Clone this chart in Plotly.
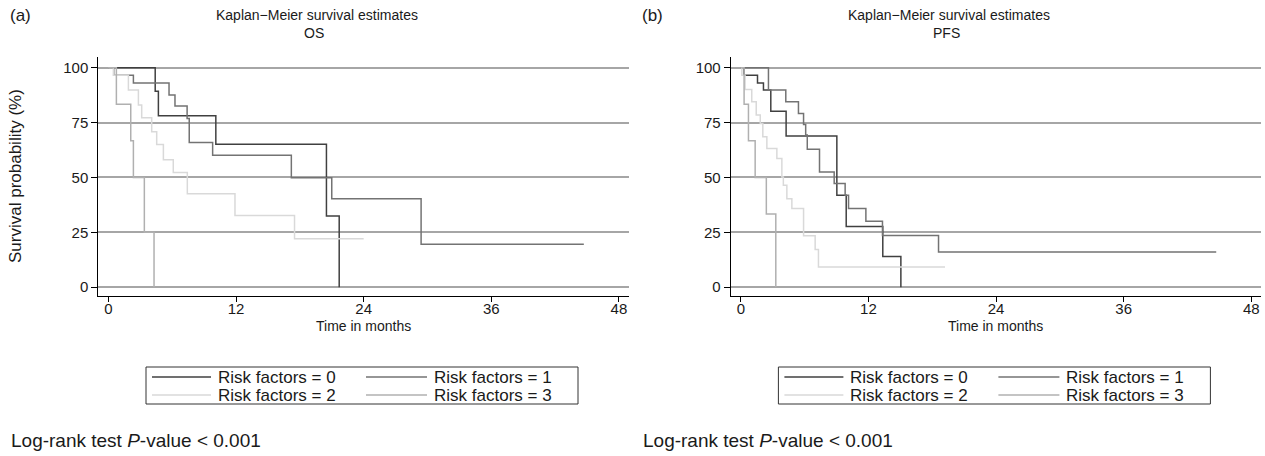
import plotly.graph_objects as go

# ---------------- data ----------------
groups = ["Risk factors = 0", "Risk factors = 1", "Risk factors = 2", "Risk factors = 3"]

# OS panel (a)
os_t0 = [0, 4.4, 4.7, 10.1, 20.5, 21.7]
os_s0 = [100, 89.3, 78.1, 65.1, 32.4, 0]
os_t1 = [0, 0.5, 2.35, 5.7, 6.26, 7.4, 7.6, 9.8, 17.2, 21.0, 29.4, 44.7]
os_s1 = [100, 96.6, 93.0, 87.5, 82.5, 76.9, 65.9, 60.1, 49.9, 40.3, 19.6, 19.6]
os_t2 = [0, 0.47, 1.88, 2.82, 3.13, 4.07, 4.54, 5.17, 6.1, 7.42, 11.9, 17.5, 24.0]
os_s2 = [100, 96.6, 89.8, 83.0, 77.2, 70.8, 65.0, 58.1, 52.2, 42.6, 32.7, 22.1, 22.1]
os_t3 = [0, 0.75, 2.1, 2.35, 3.38, 4.29]
os_s3 = [100, 83.3, 66.7, 50, 25, 0]

# PFS panel (b)
pfs_t0 = [0, 0.3, 1.57, 2.13, 2.82, 4.26, 9.03, 9.91, 13.35, 15.05]
pfs_s0 = [100, 96.6, 93.0, 89.8, 80.2, 68.9, 41.9, 27.7, 14.0, 0]
pfs_t1 = [0, 2.6, 4.23, 5.42, 5.9, 6.1, 6.25, 7.4, 8.78, 9.81, 10.13, 11.76, 13.32, 18.59, 44.7]
pfs_s1 = [100, 89.8, 84.5, 79.1, 74.1, 69.3, 62.9, 52.5, 47.3, 41.9, 35.8, 30.1, 23.6, 16.0, 16.0]
pfs_t2 = [0, 0.1, 0.4, 1.03, 1.45, 1.83, 2.07, 2.45, 3.39, 3.86, 4.0, 4.33, 4.8, 5.9, 6.99, 7.3, 19.2]
pfs_s2 = [100, 96.6, 90.1, 84.5, 78.4, 74.6, 68.5, 63.2, 58.6, 50.2, 46.4, 40.3, 35.8, 23.4, 17.2, 9.2, 9.2]
pfs_t3 = [0, 0.31, 0.72, 1.35, 2.4, 3.29]
pfs_s3 = [100, 83.3, 66.7, 50, 33.3, 0]

x_ticks = [0, 12, 24, 36, 48]
y_ticks = [0, 25, 50, 75, 100]
panel_titles = ["OS", "PFS"]
panel_letters = ["(a)", "(b)"]

colors = ["#404040", "#737373", "#d9d9d9", "#b0b0b0"]

W, H = 1265, 456
FONT = "Liberation Sans, Arial, Helvetica, sans-serif"
FS_TICK = 15
FS_TITLE = 14
FS_YTITLE = 17
FS_LEG = 17
FS_NOTE = 19


def px(x):
    return x / W


def py(y):
    return 1 - y / H


fig = go.Figure()

os_data = [(os_t0, os_s0), (os_t1, os_s1), (os_t2, os_s2), (os_t3, os_s3)]
pfs_data = [(pfs_t0, pfs_s0), (pfs_t1, pfs_s1), (pfs_t2, pfs_s2), (pfs_t3, pfs_s3)]

for pi, data in enumerate([os_data, pfs_data]):
    xa = "x" if pi == 0 else "x2"
    ya = "y" if pi == 0 else "y2"
    for gi, (t, s) in enumerate(data):
        fig.add_trace(go.Scatter(
            x=t, y=s, mode="lines", line_shape="hv",
            line=dict(color=colors[gi], width=1.5),
            name=groups[gi], showlegend=False, xaxis=xa, yaxis=ya,
            hoverinfo="skip"))

# plot-area geometry (pixels)
offsets = [0, 632.4]
left0, right0 = 98.3, 628.5
top, bottom = 56.7, 296.0

axis_common = dict(
    showline=True, linecolor="black", linewidth=1, ticks="outside",
    tickcolor="black", tickwidth=1,
    tickfont=dict(family=FONT, size=FS_TICK, color="#1a1a1a"), zeroline=False)

for pi in range(2):
    off = offsets[pi]
    xd = [px(left0 + off), px(right0 + off)]
    yd = [py(bottom), py(top)]
    xkey = "xaxis" if pi == 0 else "xaxis2"
    ykey = "yaxis" if pi == 0 else "yaxis2"
    yname = "y" if pi == 0 else "y2"
    xname = "x" if pi == 0 else "x2"
    fig.update_layout({
        xkey: dict(domain=xd, range=[-0.95, 48.9], tickvals=x_ticks,
                   showgrid=False, anchor=yname, ticklen=5,
                   ticklabelstandoff=-6, **axis_common),
        ykey: dict(domain=yd, range=[-4, 105], tickvals=y_ticks,
                   showgrid=True, gridcolor="#a6a6a6", gridwidth=1.5,
                   anchor=xname, ticklen=6, **axis_common),
    })

ann = []
shapes = []
tc = "#1a1a1a"
for pi in range(2):
    off = offsets[pi]
    # panel letter
    ann.append(dict(x=px(8 + off), y=py(15), xref="paper", yref="paper",
                    text=panel_letters[pi], showarrow=False, xanchor="left",
                    yanchor="middle", font=dict(family=FONT, size=17, color=tc)))
    # title
    ann.append(dict(x=px(317 + off), y=py(15), xref="paper", yref="paper",
                    text="Kaplan\u2212Meier survival estimates", showarrow=False,
                    xanchor="center", yanchor="middle",
                    font=dict(family=FONT, size=FS_TITLE, color=tc)))
    ann.append(dict(x=px(314 + off), y=py(33), xref="paper", yref="paper",
                    text=panel_titles[pi], showarrow=False,
                    xanchor="center", yanchor="middle",
                    font=dict(family=FONT, size=FS_TITLE, color=tc)))
    # x title
    ann.append(dict(x=px(363 + off), y=py(326), xref="paper", yref="paper",
                    text="Time in months", showarrow=False,
                    xanchor="center", yanchor="middle",
                    font=dict(family=FONT, size=FS_TITLE, color=tc)))
    # legend box
    bx0, bx1, by0, by1 = 146 + off, 578 + off, 367, 404
    shapes.append(dict(type="rect", xref="paper", yref="paper",
                       x0=px(bx0), x1=px(bx1), y0=py(by1), y1=py(by0),
                       line=dict(color="#333333", width=1), fillcolor="white"))
    rows = [377, 395]
    cols = [(152, 211, 216), (366, 427, 432)]
    for gi in range(4):
        r = gi // 2
        c = gi % 2
        lx0, lx1, tx = cols[c]
        shapes.append(dict(type="line", xref="paper", yref="paper",
                           x0=px(lx0 + off), x1=px(lx1 + off),
                           y0=py(rows[r]), y1=py(rows[r]),
                           line=dict(color=colors[gi], width=1.4)))
        ann.append(dict(x=px(tx + off), y=py(rows[r]), xref="paper", yref="paper",
                        text=groups[gi], showarrow=False, xanchor="left",
                        yanchor="middle", font=dict(family=FONT, size=FS_LEG, color=tc)))
    # log-rank note
    ann.append(dict(x=px(9 + off), y=py(440), xref="paper", yref="paper",
                    text="Log-rank test <i>P</i>-value < 0.001", showarrow=False,
                    xanchor="left", yanchor="middle",
                    font=dict(family=FONT, size=FS_NOTE, color=tc)))

# y-axis title for panel (a)
ann.append(dict(x=px(15), y=py(176), xref="paper", yref="paper",
                text="Survival probability (%)", showarrow=False, textangle=-90,
                xanchor="center", yanchor="middle",
                font=dict(family=FONT, size=FS_YTITLE, color=tc)))

fig.update_layout(
    width=W, height=H, margin=dict(l=0, r=0, t=0, b=0),
    paper_bgcolor="white", plot_bgcolor="white",
    annotations=ann, shapes=shapes, showlegend=False,
    font=dict(family=FONT, size=FS_TICK, color=tc))

fig.write_html(
    "out.html",
    config={"displayModeBar": False},
    post_script="document.body.style.margin='0';document.body.style.overflow='hidden';")
